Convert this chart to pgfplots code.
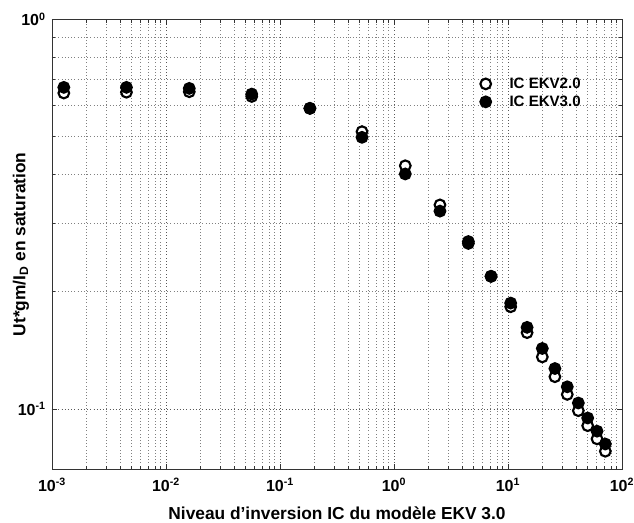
\documentclass[border=0pt]{standalone}
\usepackage{pgfplots}
\pgfplotsset{compat=1.18}
\usepackage{fontspec}
\setmainfont{Liberation Sans}
\begin{document}
\fontsize{10.5}{12}\selectfont\bfseries
\begin{tikzpicture}
\pgfplotsset{mylegend/.style={legend image code/.code={\draw[##1] plot coordinates {(0.3cm,0cm)}; \path (0cm,0cm) (0.85cm,0cm);}}}
\begin{axis}[
  at={(0,0)}, anchor=south west,
  scale only axis, width=427.5pt, height=337.5pt,
  xmode=log, ymode=log,
  xmin=1e-3, xmax=100, ymin=0.07, ymax=1,
  xtick={1e-3,1e-2,1e-1,1,10,100},
  xticklabels={10\textsuperscript{-3},10\textsuperscript{-2},10\textsuperscript{-1},10\textsuperscript{0},10\textsuperscript{1},10\textsuperscript{2}},
  ytick={0.1,1},
  yticklabels={10\textsuperscript{-1},10\textsuperscript{0}},
  ticklabel style={font=\fontsize{12}{14}\selectfont\bfseries},
  grid=both,
  major grid style={dotted, black!65, line width=0.5pt},
  minor grid style={dotted, black!50, line width=0.5pt},
  tick align=inside,
  major tick length=4pt, minor tick length=2.5pt,
  tick style={black!80, line width=0.5pt},
  axis line style={black!80, line width=0.6pt},
  xlabel={Niveau d'inversion IC du modèle EKV 3.0},
  ylabel={Ut*gm/I\textsubscript{D} en saturation},
  label style={font=\fontsize{13}{15}\selectfont\bfseries},
  xticklabel style={yshift=-3pt},
  yticklabel style={xshift=-1pt},
  xlabel style={at={([yshift=-32.8pt]axis description cs:0.5,0)}, anchor=center},
  ylabel style={at={([xshift=-23.3pt]axis description cs:0,0.5)}, anchor=center},
  legend style={draw=none, fill=none, at={(0.733,0.883)}, anchor=north west,
    row sep=0pt, font=\fontsize{11.3}{13}\selectfont\bfseries},
  legend cell align=left,
]
\addplot[only marks, mark=*, mark options={draw=black, fill=white, line width=1.6pt}, mark size=4pt, mylegend] coordinates {
(1.27e-3,0.647) (4.5e-3,0.650) (0.016,0.652) (0.0565,0.634) (0.183,0.591)
(0.524,0.515) (1.256,0.421) (2.53,0.334) (4.49,0.269) (7.1,0.219)
(10.56,0.183) (14.7,0.157) (20.0,0.136) (25.8,0.121) (33.1,0.109)
(41.4,0.099) (50.0,0.0906) (60.4,0.0838) (71.4,0.0779)
};
\addlegendentry{IC EKV2.0}
\addplot[only marks, mark=*, mark options={draw=black, fill=black, line width=1.6pt}, mark size=4pt, mylegend] coordinates {
(1.27e-3,0.669) (4.5e-3,0.669) (0.016,0.665) (0.0565,0.643) (0.183,0.591)
(0.524,0.498) (1.256,0.401) (2.53,0.322) (4.49,0.266) (7.1,0.219)
(10.56,0.187) (14.7,0.162) (20.0,0.143) (25.8,0.127) (33.1,0.114)
(41.4,0.1036) (50.0,0.0948) (60.4,0.0877) (71.4,0.0813)
};
\addlegendentry{IC EKV3.0}
\end{axis}
\pgfresetboundingbox
\path[use as bounding box] (-39pt,-39.5pt) rectangle (436.5pt,352pt);
\end{tikzpicture}
\end{document}
